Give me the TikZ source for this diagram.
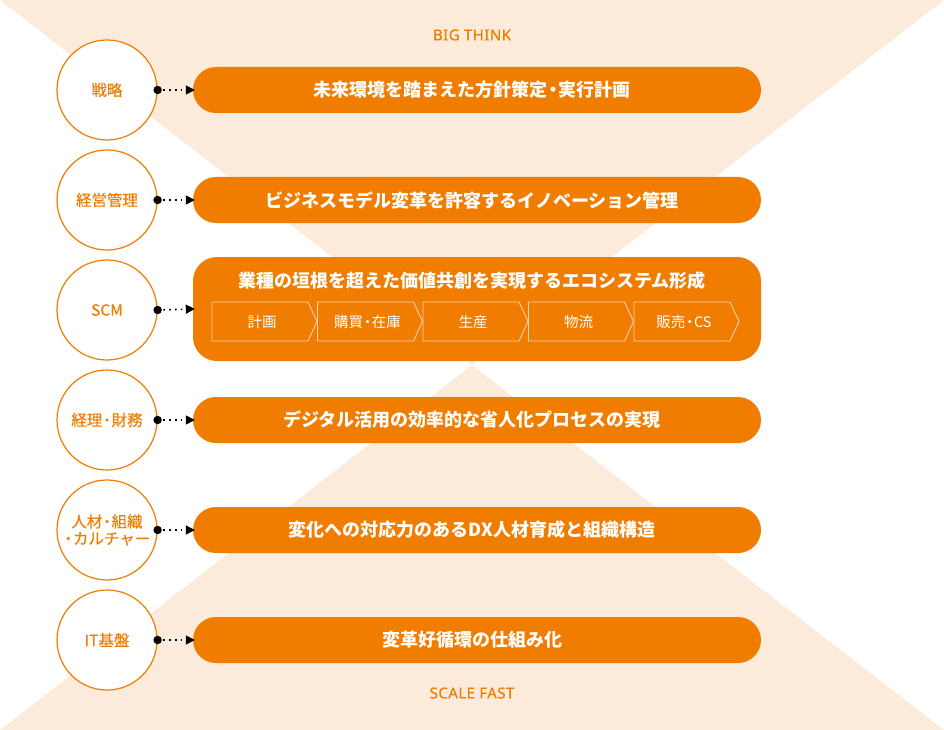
\documentclass[tikz,border=0pt]{standalone}
\usepackage{fontspec}
\setmainfont{Noto Sans CJK JP}
\newfontfamily\jpmed{Noto Sans CJK JP}[FakeBold=0.35]
\newfontfamily\latf{Noto Sans}[LetterSpace=3,FakeBold=0.5]
\usetikzlibrary{arrows.meta}
\definecolor{org}{HTML}{F07C00}
\definecolor{bgl}{HTML}{FCEBDA}
\definecolor{chline}{HTML}{FAD2AE}
\newcommand\nd{\makebox[0.6em][c]{・}}
\begin{document}
\begin{tikzpicture}[x=1pt,y=-1pt,
  circ/.style={circle,draw=org,line width=1.2pt,fill=white,minimum size=100pt,inner sep=0pt,text=org,font=\jpmed\fontsize{15.5}{19}\selectfont,align=center},
  bar/.style={rounded corners=23pt,fill=org,minimum width=568pt,minimum height=46pt,inner sep=0pt},
  bartext/.style={text=white,font=\bfseries\fontsize{18}{21}\selectfont,inner sep=0pt},
  chev/.style={draw=chline,line width=0.9pt},
  chevtext/.style={text=white,font=\fontsize{14.5}{16}\selectfont,inner sep=0pt},
  conn/.style={line width=1.6pt,dash pattern=on 1.6pt off 4.2pt,-{Triangle[length=9pt,width=9pt]},shorten >=-2pt},
  headtext/.style={text=org,font=\latf\fontsize{15}{17}\selectfont,inner sep=0pt}
]
\useasboundingbox (0,0) rectangle (944,730);
% background hourglass
\fill[bgl] (0,0) -- (944,0) -- (472,365) -- cycle;
\fill[bgl] (0,730) -- (944,730) -- (472,365) -- cycle;

\node[headtext] (big) at (472,35) {BIG THINK};
\node[headtext] (scale) at (472,693) {SCALE FAST};

% circles
\node[circ] (c1) at (107,90) {戦略};
\node[circ] (c2) at (107,200) {経営管理};
\node[circ] (c3) at (107,310) {SCM};
\node[circ] (c4) at (107,420) {経理\nd 財務};
\node[circ] (c5) at (107,530) {人材\nd 組織\\[-2pt]\nd カルチャー};
\node[circ] (c6) at (107,640) {IT基盤};

% bars
\node[bar] (b1) at (477,90) {};
\node[bar] (b2) at (477,200) {};
\node[bar,rounded corners=24pt,minimum height=104pt] (b3) at (477,309) {};
\node[bar] (b4) at (477,420) {};
\node[bar] (b5) at (477,530) {};
\node[bar] (b6) at (477,640) {};

\node[bartext] (t1) at (472,90) {未来環境を踏まえた方針策定\nd 実行計画};
\node[bartext] (t2) at (472,200) {ビジネスモデル変革を許容するイノベーション管理};
\node[bartext] (t3) at (472,281) {業種の垣根を超えた価値共創を実現するエコシステム形成};
\node[bartext] (t4) at (472,420) {デジタル活用の効率的な省人化プロセスの実現};
\node[bartext] (t5) at (472,530) {変化への対応力のあるDX人材育成と組織構造};
\node[bartext] (t6) at (472,640) {変革好循環の仕組み化};

% chevrons
\foreach \i/\lab in {0/計画,1/購買\nd 在庫,2/生産,3/物流,4/販売\nd CS}{
  \pgfmathsetmacro{\xl}{212+105.5*\i}
  \draw[chev] (\xl,302) -- ++(96,0) -- ++(9,19.5) -- ++(-9,19.5) -- ++(-96,0) -- cycle;
  \node[chevtext] (s\i) at (\xl+50,322) {\lab};
}

% connectors
\foreach \k in {1,...,6}{
  \fill (c\k.east) circle (4.2pt);
  \draw[conn] (c\k.east) -- (b\k.west);
}
\end{tikzpicture}
\end{document}
